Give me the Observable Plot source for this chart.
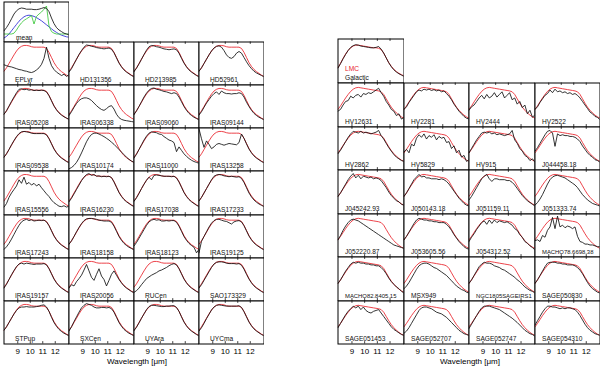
<!DOCTYPE html>
<html>
<head>
<meta charset="utf-8">
<script src="https://cdn.jsdelivr.net/npm/d3@7"></script>
<script src="https://cdn.jsdelivr.net/npm/@observablehq/plot@0.6"></script>
<style>
  html, body { margin: 0; padding: 0; background: #fff; }
  #chart { position: relative; width: 600px; height: 367px; background: #fff; overflow: hidden;
           font-family: "Liberation Sans", Arial, sans-serif; }
  #chart .cell { position: absolute; }
  #chart .xlab { position: absolute; font-size: 8px; color: #000; transform: translate(-50%, -50%); white-space: nowrap; }
</style>
</head>
<body>
<div id="chart"></div>
<script>
// wavelength grid (micron)
const wl = [7.9,8.1,8.3,8.5,8.7,8.9,9.1,9.3,9.5,9.7,9.9,10.1,10.3,10.5,10.7,10.9,11.1,11.3,11.5,11.7,11.9,12.1,12.3,12.5,12.7,12.9,13.1];
const xTicks = [9, 10, 11, 12];

// mean panel (top left)
const meanBlack = [0.28,0.36,0.46,0.58,0.70,0.78,0.83,0.85,0.84,0.82,0.82,0.82,0.81,0.81,0.82,0.84,0.86,0.84,0.76,0.60,0.46,0.36,0.30,0.26,0.22,0.20,0.18];
const meanBlue  = [0.10,0.14,0.20,0.28,0.36,0.44,0.52,0.58,0.63,0.66,0.67,0.66,0.64,0.61,0.57,0.53,0.48,0.43,0.38,0.33,0.28,0.24,0.20,0.17,0.15,0.13,0.12];
const meanGreen = [0.20,0.20,0.20,0.20,0.22,0.30,0.40,0.48,0.54,0.58,0.62,0.66,0.45,0.64,0.70,0.75,0.82,0.90,0.40,0.26,0.22,0.20,0.20,0.20,0.20,0.20,0.20];

// LMC vs Galactic panel (top right)
const lmcRed      = [0.35,0.45,0.56,0.66,0.74,0.80,0.84,0.86,0.86,0.85,0.84,0.83,0.82,0.81,0.80,0.80,0.79,0.76,0.68,0.57,0.46,0.38,0.31,0.26,0.22,0.19,0.16];
const galactBlack = [0.34,0.44,0.55,0.65,0.74,0.81,0.85,0.87,0.86,0.84,0.83,0.82,0.81,0.80,0.80,0.81,0.83,0.77,0.68,0.57,0.46,0.37,0.30,0.25,0.21,0.18,0.15];

// red templates
const leftRed  = [0.32,0.40,0.50,0.60,0.70,0.79,0.86,0.90,0.92,0.92,0.91,0.89,0.88,0.88,0.88,0.88,0.88,0.85,0.76,0.64,0.52,0.43,0.36,0.31,0.27,0.23,0.20];
const rightRed = [0.40,0.48,0.57,0.66,0.74,0.81,0.86,0.89,0.90,0.89,0.88,0.87,0.86,0.85,0.84,0.83,0.82,0.80,0.74,0.64,0.54,0.45,0.38,0.32,0.27,0.23,0.20];

// Galactic sources (left block, row-major)
const leftNames = ["EPLyr","HD131356","HD213985","HD52961",
  "IRAS05208","IRAS06338","IRAS09060","IRAS09144",
  "IRAS09538","IRAS10174","IRAS11000","IRAS13258",
  "IRAS15556","IRAS16230","IRAS17038","IRAS17233",
  "IRAS17243","IRAS18158","IRAS18123","IRAS19125",
  "IRAS19157","IRAS20056","RUCen","SAO173329",
  "STPup","SXCen","UYAra","UYCma"];
const leftBlack = [
  [0.47,0.45,0.43,0.42,0.40,0.38,0.36,0.35,0.33,0.32,0.30,0.29,0.31,0.35,0.40,0.48,0.62,0.88,0.62,0.45,0.36,0.30,0.26,0.22,0.25,0.20,0.24],
  [0.30,0.38,0.49,0.60,0.71,0.80,0.88,0.93,0.92,0.90,0.89,0.87,0.86,0.85,0.84,0.85,0.86,0.83,0.75,0.63,0.51,0.42,0.35,0.30,0.26,0.22,0.19],
  [0.31,0.39,0.49,0.60,0.71,0.81,0.89,0.92,0.91,0.89,0.88,0.86,0.84,0.83,0.82,0.83,0.84,0.82,0.74,0.62,0.51,0.42,0.35,0.30,0.26,0.22,0.19],
  [0.32,0.40,0.50,0.60,0.70,0.79,0.86,0.90,0.91,0.88,0.80,0.70,0.64,0.62,0.66,0.74,0.78,0.74,0.64,0.54,0.45,0.38,0.32,0.28,0.25,0.22,0.19],
  [0.32,0.40,0.51,0.62,0.72,0.82,0.90,0.91,0.89,0.90,0.88,0.89,0.87,0.88,0.87,0.88,0.87,0.84,0.75,0.63,0.51,0.42,0.35,0.30,0.26,0.23,0.20],
  [0.29,0.38,0.48,0.57,0.64,0.68,0.70,0.70,0.68,0.64,0.58,0.52,0.47,0.43,0.41,0.45,0.50,0.52,0.44,0.32,0.24,0.20,0.18,0.17,0.16,0.15,0.14],
  [0.31,0.40,0.50,0.61,0.72,0.81,0.88,0.92,0.93,0.90,0.89,0.87,0.85,0.84,0.82,0.80,0.82,0.80,0.72,0.61,0.50,0.41,0.34,0.29,0.25,0.22,0.19],
  [0.30,0.38,0.48,0.58,0.66,0.74,0.80,0.84,0.78,0.86,0.82,0.80,0.80,0.79,0.80,0.80,0.82,0.80,0.72,0.60,0.50,0.41,0.34,0.29,0.25,0.22,0.19],
  [0.32,0.40,0.50,0.61,0.71,0.80,0.87,0.91,0.92,0.91,0.90,0.88,0.87,0.87,0.87,0.87,0.87,0.84,0.75,0.63,0.51,0.42,0.35,0.30,0.26,0.22,0.19],
  [0.05,0.08,0.13,0.20,0.30,0.42,0.55,0.68,0.78,0.85,0.88,0.88,0.86,0.83,0.80,0.76,0.72,0.67,0.62,0.56,0.50,0.44,0.38,0.32,0.27,0.23,0.20],
  [0.30,0.39,0.50,0.61,0.72,0.81,0.88,0.91,0.90,0.89,0.86,0.85,0.80,0.76,0.72,0.70,0.66,0.45,0.56,0.48,0.40,0.34,0.29,0.25,0.22,0.20,0.18],
  [0.98,0.75,0.55,0.70,0.62,0.52,0.56,0.62,0.64,0.62,0.60,0.62,0.64,0.63,0.62,0.61,0.66,0.86,0.76,0.63,0.51,0.42,0.35,0.30,0.26,0.22,0.19],
  [0.18,0.26,0.40,0.50,0.58,0.66,0.80,0.72,0.86,0.70,0.74,0.68,0.72,0.66,0.70,0.62,0.55,0.48,0.42,0.34,0.28,0.24,0.20,0.19,0.21,0.18,0.20],
  [0.30,0.38,0.48,0.58,0.68,0.78,0.86,0.92,0.94,0.90,0.92,0.88,0.89,0.87,0.88,0.87,0.88,0.85,0.75,0.63,0.51,0.42,0.35,0.30,0.26,0.22,0.19],
  [0.31,0.39,0.49,0.60,0.70,0.79,0.86,0.80,0.90,0.91,0.90,0.89,0.88,0.88,0.88,0.87,0.88,0.84,0.75,0.63,0.51,0.42,0.35,0.30,0.26,0.22,0.19],
  [0.32,0.40,0.50,0.60,0.70,0.80,0.88,0.91,0.92,0.91,0.89,0.88,0.87,0.88,0.87,0.86,0.87,0.83,0.74,0.62,0.50,0.41,0.34,0.29,0.25,0.22,0.19],
  [0.20,0.26,0.34,0.44,0.55,0.66,0.76,0.84,0.88,0.90,0.87,0.89,0.86,0.87,0.88,0.87,0.88,0.84,0.75,0.63,0.51,0.42,0.35,0.30,0.26,0.22,0.19],
  [0.32,0.40,0.50,0.61,0.71,0.80,0.87,0.91,0.92,0.92,0.91,0.90,0.88,0.87,0.86,0.86,0.86,0.83,0.74,0.62,0.50,0.41,0.34,0.29,0.25,0.22,0.19],
  [0.28,0.36,0.46,0.56,0.66,0.76,0.84,0.88,0.90,0.88,0.89,0.86,0.86,0.87,0.86,0.87,0.87,0.83,0.74,0.62,0.50,0.41,0.34,0.29,0.25,0.12,0.20],
  [0.12,0.39,0.50,0.61,0.72,0.81,0.87,0.90,0.90,0.88,0.86,0.85,0.82,0.79,0.84,0.86,0.87,0.84,0.75,0.63,0.51,0.42,0.35,0.30,0.26,0.22,0.19],
  [0.30,0.39,0.50,0.61,0.71,0.80,0.86,0.88,0.86,0.88,0.87,0.86,0.85,0.86,0.86,0.86,0.87,0.84,0.75,0.63,0.51,0.42,0.35,0.30,0.26,0.22,0.19],
  [0.30,0.38,0.35,0.45,0.52,0.60,0.72,0.85,0.70,0.55,0.48,0.62,0.75,0.58,0.50,0.35,0.48,0.62,0.70,0.60,0.50,0.42,0.35,0.30,0.26,0.22,0.19],
  [0.20,0.24,0.30,0.38,0.45,0.52,0.56,0.60,0.63,0.66,0.70,0.72,0.75,0.78,0.82,0.85,0.87,0.84,0.75,0.63,0.51,0.42,0.35,0.30,0.26,0.22,0.19],
  [0.30,0.38,0.48,0.58,0.68,0.78,0.86,0.90,0.91,0.91,0.90,0.88,0.87,0.87,0.87,0.86,0.87,0.83,0.74,0.62,0.51,0.42,0.35,0.30,0.26,0.22,0.19],
  [0.32,0.40,0.50,0.60,0.70,0.78,0.84,0.86,0.86,0.87,0.86,0.86,0.86,0.87,0.88,0.90,0.91,0.86,0.76,0.62,0.50,0.41,0.34,0.29,0.25,0.22,0.19],
  [0.30,0.40,0.52,0.63,0.74,0.84,0.90,0.94,0.92,0.90,0.86,0.84,0.84,0.85,0.85,0.84,0.85,0.82,0.74,0.62,0.50,0.41,0.34,0.29,0.25,0.22,0.19],
  [0.31,0.39,0.49,0.60,0.70,0.80,0.87,0.90,0.90,0.89,0.88,0.87,0.87,0.88,0.88,0.89,0.89,0.85,0.76,0.63,0.51,0.42,0.35,0.30,0.26,0.22,0.19],
  [0.30,0.38,0.48,0.59,0.69,0.79,0.86,0.90,0.91,0.90,0.89,0.88,0.88,0.88,0.88,0.88,0.89,0.85,0.75,0.63,0.51,0.42,0.35,0.30,0.26,0.22,0.19]
];

// LMC sources (right block, row-major)
const rightNames = ["HV12631","HV2281","HV2444","HV2522",
  "HV2862","HV5829","HV915","J044458.18",
  "J045242.93","J050143.18","J051159.11","J051333.74",
  "J052220.87","J053605.56","J054312.52","MACHO78.6698.38",
  "MACHO82.8405.15","MSX949","NGC1805SAGEIRS1","SAGE050830",
  "SAGE051453","SAGE052707","SAGE052747","SAGE054310"];
const rightBlack = [
  [0.36,0.40,0.50,0.58,0.60,0.70,0.66,0.72,0.74,0.68,0.76,0.74,0.78,0.76,0.80,0.84,0.88,0.78,0.70,0.58,0.50,0.40,0.36,0.26,0.30,0.18,0.22],
  [0.40,0.46,0.56,0.64,0.72,0.80,0.84,0.82,0.86,0.84,0.86,0.83,0.85,0.82,0.84,0.80,0.82,0.76,0.70,0.62,0.52,0.44,0.36,0.30,0.24,0.20,0.18],
  [0.38,0.46,0.50,0.58,0.66,0.72,0.64,0.74,0.66,0.70,0.78,0.68,0.74,0.80,0.66,0.72,0.78,0.62,0.66,0.52,0.58,0.44,0.50,0.30,0.38,0.22,0.28],
  [0.40,0.46,0.56,0.64,0.72,0.76,0.84,0.78,0.86,0.80,0.82,0.78,0.80,0.76,0.78,0.74,0.76,0.72,0.66,0.58,0.50,0.42,0.34,0.30,0.24,0.22,0.16],
  [0.38,0.46,0.56,0.66,0.76,0.84,0.90,0.88,0.86,0.90,0.86,0.88,0.86,0.84,0.86,0.88,0.92,0.80,0.72,0.62,0.52,0.44,0.36,0.30,0.26,0.22,0.20],
  [0.42,0.48,0.40,0.60,0.56,0.74,0.82,0.76,0.84,0.72,0.80,0.76,0.82,0.70,0.78,0.74,0.76,0.64,0.66,0.50,0.56,0.40,0.46,0.30,0.34,0.20,0.24],
  [0.40,0.50,0.60,0.70,0.78,0.86,0.88,0.86,0.88,0.84,0.86,0.82,0.84,0.82,0.80,0.82,0.84,0.92,0.70,0.62,0.50,0.44,0.34,0.30,0.22,0.26,0.18],
  [0.44,0.52,0.62,0.72,0.82,0.90,0.92,0.86,0.55,0.84,0.80,0.82,0.80,0.80,0.78,0.78,0.76,0.72,0.66,0.56,0.48,0.40,0.34,0.30,0.24,0.22,0.18],
  [0.40,0.48,0.58,0.68,0.78,0.86,0.92,0.82,0.88,0.80,0.86,0.84,0.82,0.84,0.80,0.82,0.80,0.76,0.68,0.60,0.50,0.42,0.36,0.30,0.28,0.22,0.20],
  [0.40,0.48,0.58,0.68,0.78,0.84,0.90,0.84,0.86,0.82,0.82,0.80,0.80,0.80,0.78,0.80,0.78,0.74,0.68,0.60,0.52,0.44,0.36,0.30,0.24,0.20,0.18],
  [0.32,0.40,0.50,0.60,0.70,0.80,0.86,0.90,0.80,0.74,0.80,0.80,0.78,0.78,0.78,0.76,0.76,0.72,0.66,0.58,0.50,0.42,0.36,0.30,0.26,0.22,0.18],
  [0.20,0.26,0.34,0.44,0.56,0.68,0.78,0.84,0.87,0.88,0.86,0.84,0.82,0.78,0.74,0.70,0.66,0.60,0.52,0.44,0.38,0.32,0.28,0.24,0.22,0.20,0.18],
  [0.40,0.50,0.62,0.72,0.80,0.86,0.88,0.86,0.84,0.80,0.76,0.72,0.68,0.64,0.60,0.56,0.52,0.48,0.44,0.40,0.36,0.32,0.28,0.26,0.24,0.22,0.20],
  [0.40,0.48,0.58,0.68,0.78,0.86,0.90,0.88,0.86,0.86,0.84,0.84,0.82,0.82,0.80,0.80,0.80,0.76,0.70,0.62,0.52,0.44,0.36,0.30,0.24,0.20,0.18],
  [0.36,0.46,0.54,0.64,0.72,0.80,0.84,0.76,0.86,0.78,0.86,0.80,0.84,0.82,0.80,0.82,0.78,0.74,0.66,0.62,0.52,0.46,0.36,0.32,0.26,0.22,0.16],
  [0.38,0.40,0.36,0.50,0.46,0.62,0.70,0.92,0.66,0.95,0.70,0.74,0.68,0.72,0.70,0.66,0.70,0.48,0.36,0.34,0.30,0.30,0.28,0.28,0.26,0.24,0.24],
  [0.40,0.48,0.58,0.68,0.76,0.84,0.88,0.86,0.88,0.86,0.86,0.84,0.84,0.82,0.82,0.80,0.80,0.76,0.70,0.62,0.52,0.44,0.38,0.32,0.28,0.22,0.18],
  [0.28,0.34,0.42,0.52,0.62,0.72,0.80,0.84,0.86,0.86,0.84,0.80,0.76,0.74,0.70,0.66,0.62,0.58,0.52,0.46,0.40,0.34,0.30,0.26,0.24,0.20,0.18],
  [0.40,0.48,0.58,0.68,0.78,0.84,0.88,0.86,0.86,0.84,0.80,0.78,0.76,0.72,0.70,0.66,0.62,0.58,0.54,0.48,0.44,0.38,0.32,0.28,0.24,0.22,0.18],
  [0.40,0.48,0.58,0.68,0.78,0.86,0.88,0.88,0.88,0.86,0.86,0.84,0.84,0.82,0.82,0.82,0.80,0.76,0.70,0.62,0.52,0.42,0.34,0.28,0.24,0.20,0.18],
  [0.38,0.48,0.58,0.68,0.76,0.82,0.88,0.84,0.88,0.80,0.86,0.78,0.74,0.72,0.76,0.78,0.80,0.72,0.64,0.56,0.48,0.40,0.34,0.30,0.26,0.22,0.20],
  [0.25,0.30,0.38,0.48,0.58,0.68,0.78,0.84,0.86,0.86,0.84,0.82,0.78,0.74,0.72,0.70,0.66,0.62,0.56,0.50,0.44,0.38,0.32,0.28,0.24,0.22,0.20],
  [0.36,0.46,0.56,0.66,0.76,0.84,0.88,0.88,0.88,0.86,0.84,0.82,0.80,0.76,0.72,0.68,0.64,0.60,0.55,0.50,0.44,0.38,0.32,0.28,0.24,0.22,0.18],
  [0.44,0.54,0.64,0.74,0.82,0.88,0.88,0.86,0.86,0.84,0.82,0.84,0.82,0.84,0.84,0.82,0.80,0.74,0.66,0.56,0.46,0.38,0.32,0.28,0.24,0.22,0.20]
];

const RED = "#e8222a", BLACK = "#111", BLUE = "#2b2bd6", GREEN = "#3cc83c";
const FONT = '"Liberation Sans", Arial, sans-serif';

const chart = document.getElementById("chart");

function panel({left, top, w, h, series, labels, labelDx, xAxis}) {
  const extra = xAxis ? 14 : 0;
  const marks = [
    Plot.ruleX(xTicks, {y1: 0, y2: 0.055, stroke: BLACK, strokeWidth: 0.8}),
    Plot.ruleX(xTicks, {y1: 0.945, y2: 1, stroke: BLACK, strokeWidth: 0.8})
  ];
  for (const s of series) {
    marks.push(Plot.line(s.values, {x: (d, i) => wl[i], y: d => d, stroke: s.color, strokeWidth: 0.85, clip: true}));
  }
  for (const L of labels) {
    const fs = L.text.length >= 15 ? 5.9 : 6.6;
    marks.push(Plot.text([L.text], {text: d => d, frameAnchor: "bottom-left", textAnchor: "start",
      lineAnchor: "middle", dx: labelDx, dy: L.dy, fill: L.color || BLACK, fontSize: fs, fontFamily: FONT}));
  }
  marks.push(Plot.frame({stroke: "#000", strokeWidth: 1}));
  const svg = Plot.plot({
    width: w + 1, height: h + 1 + extra,
    marginLeft: 0.5, marginRight: 0.5, marginTop: 0.5, marginBottom: 0.5 + extra,
    x: {domain: [7.9, 13.1], axis: xAxis ? "bottom" : null, ticks: xTicks, tickSize: 0, tickPadding: 4.5,
        tickFormat: d => String(d), label: null},
    y: {domain: [0, 1], axis: null},
    style: {background: "transparent", overflow: "hidden", fontSize: "8px", fontFamily: FONT, color: "#000"},
    marks
  });
  const div = document.createElement("div");
  div.className = "cell";
  div.style.left = left + "px";
  div.style.top = top + "px";
  div.appendChild(svg);
  chart.appendChild(div);
}

// Left block geometry
const leftCols = [3, 68, 133, 198, 263];
const leftRows = [41, 84, 127, 170, 214, 257, 300, 343];
// Right block geometry
const rightCols = [337, 403, 468, 534, 599];
const rightRows = [82, 126, 169, 213, 256, 300, 343];

// mean panel
panel({left: 3, top: 1, w: 65, h: 40,
  series: [{values: meanBlue, color: BLUE}, {values: meanGreen, color: GREEN}, {values: meanBlack, color: BLACK}],
  labels: [{text: "mean", dy: -4.5}], labelDx: 12, xAxis: false});

// LMC / Galactic panel
panel({left: 337, top: 38, w: 66, h: 44,
  series: [{values: lmcRed, color: RED}, {values: galactBlack, color: BLACK}],
  labels: [{text: "LMC", dy: -14, color: RED}, {text: "Galactic", dy: -5}], labelDx: 7, xAxis: false});

leftNames.forEach((name, k) => {
  const r = Math.floor(k / 4), c = k % 4;
  panel({left: leftCols[c], top: leftRows[r], w: leftCols[c + 1] - leftCols[c], h: leftRows[r + 1] - leftRows[r],
    series: [{values: leftRed, color: RED}, {values: leftBlack[k], color: BLACK}],
    labels: [{text: name, dy: -5}], labelDx: 11, xAxis: r === 6});
});

rightNames.forEach((name, k) => {
  const r = Math.floor(k / 4), c = k % 4;
  panel({left: rightCols[c], top: rightRows[r], w: rightCols[c + 1] - rightCols[c], h: rightRows[r + 1] - rightRows[r],
    series: [{values: rightRed, color: RED}, {values: rightBlack[k], color: BLACK}],
    labels: [{text: name, dy: -5}], labelDx: 7, xAxis: r === 5});
});

// axis titles
for (const cx of [137, 470]) {
  const t = document.createElement("div");
  t.className = "xlab";
  t.style.left = cx + "px";
  t.style.top = "360.5px";
  t.textContent = "Wavelength [\u03bcm]";
  chart.appendChild(t);
}
</script>
</body>
</html>
